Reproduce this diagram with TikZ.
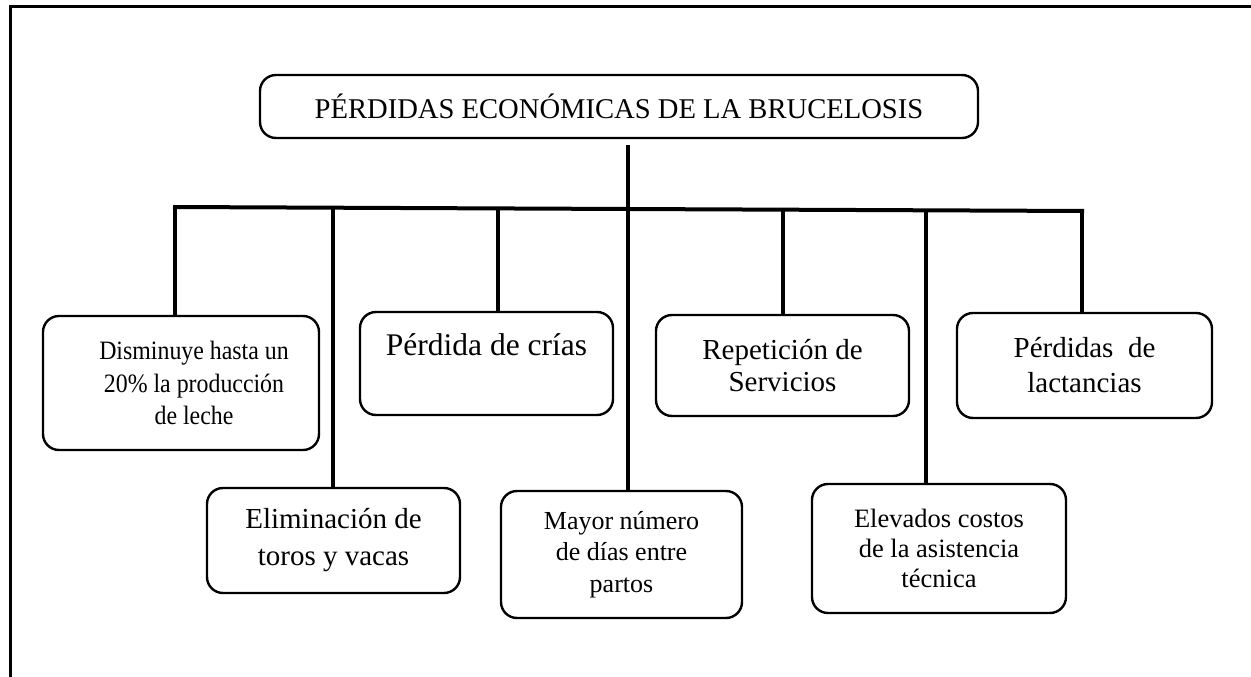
\documentclass[tikz,border=0pt]{standalone}
\usepackage{fontspec}
\setmainfont{Liberation Serif}
\newfontfamily\bcnarrow{Liberation Serif}[FakeStretch=0.9]
\usepackage{tikz}
\usetikzlibrary{calc}
\definecolor{bcink}{HTML}{000000}
\newcommand{\bcsize}[2]{\fontsize{#1}{#2}\selectfont}
\tikzset{
  bcbox/.style={draw=bcink, line width=2.4pt, rounded corners=16pt, align=center,
                inner sep=0pt, text=bcink},
  bctitle/.style={bcbox, font=\bcsize{28.6}{34}},
  bctext/.style={align=center, inner sep=0pt, text=bcink},
  bcbar/.style={draw=bcink, line width=4pt},
  bcdrop/.style={draw=bcink, line width=3.4pt},
  bcframe/.style={draw=bcink, line width=3pt},
}

\begin{document}
\begin{tikzpicture}[x=1pt,y=1pt]
  \useasboundingbox (0,0) rectangle (1251,-677);
  \draw[bcframe] (10,-700) -- (10,-7) -- (1270,-7);

  \node[bctitle, minimum width=718pt, minimum height=63pt] (top) at (619,-106.5)
    {PÉRDIDAS ECONÓMICAS DE LA BRUCELOSIS};

  % upper row
  \node[bcbox, minimum width=276pt, minimum height=134pt,
        label={[bctext, font=\bcnarrow\bcsize{26.5}{32.5}, xshift=13pt]center:{Disminuye hasta un\\20\% la producción\\de leche}}]
    (milk) at (181,-383) {};
  \node[bcbox, font=\bcsize{31.5}{36}, text height=22pt, text depth=39pt,
        minimum width=253pt, minimum height=103pt]
    (calves) at (486.5,-363.5) {Pérdida de crías};
  \node[bcbox, font=\bcsize{29}{32}, minimum width=253pt, minimum height=101pt]
    (services) at (782.5,-365.5) {Repetición de\\Servicios};
  \node[bcbox, font=\bcsize{29}{35}, minimum width=255pt, minimum height=105pt]
    (lactation) at (1084.5,-365.5) {Pérdidas~ de\\lactancias};

  % lower row
  \node[bcbox, font=\bcsize{29}{37}, minimum width=253pt, minimum height=105pt]
    (cull) at (333.5,-540.5) {Eliminación de\\toros y vacas};
  \node[bcbox, font=\bcsize{26}{31.5}, minimum width=241pt, minimum height=127pt]
    (calving) at (621.5,-554.5) {Mayor número\\de días entre\\partos};
  \node[bcbox, font=\bcsize{26.5}{30}, minimum width=254pt, minimum height=129pt]
    (costs) at (939,-548.5) {Elevados costos\\de la asistencia\\técnica};

  % branch bar
  \coordinate (stem) at (628,-145);
  \coordinate (barL) at (173,-207);
  \coordinate (barR) at (1084,-211);
  \coordinate (j1) at (175,-207);
  \coordinate (j2) at (333,-207.7);
  \coordinate (j3) at (498,-208.4);
  \coordinate (j5) at (783,-209.7);
  \coordinate (j6) at (926,-210.3);
  \coordinate (j7) at (1082,-211);
  \draw[bcbar] (barL) -- (barR);
  \draw[bcdrop] (stem) -- (stem |- calving.north);
  \foreach \j/\b in {j1/milk, j2/cull, j3/calves, j5/services, j6/costs, j7/lactation}
    \draw[bcdrop] (\j) -- (\j |- \b.north);
\end{tikzpicture}
\end{document}
